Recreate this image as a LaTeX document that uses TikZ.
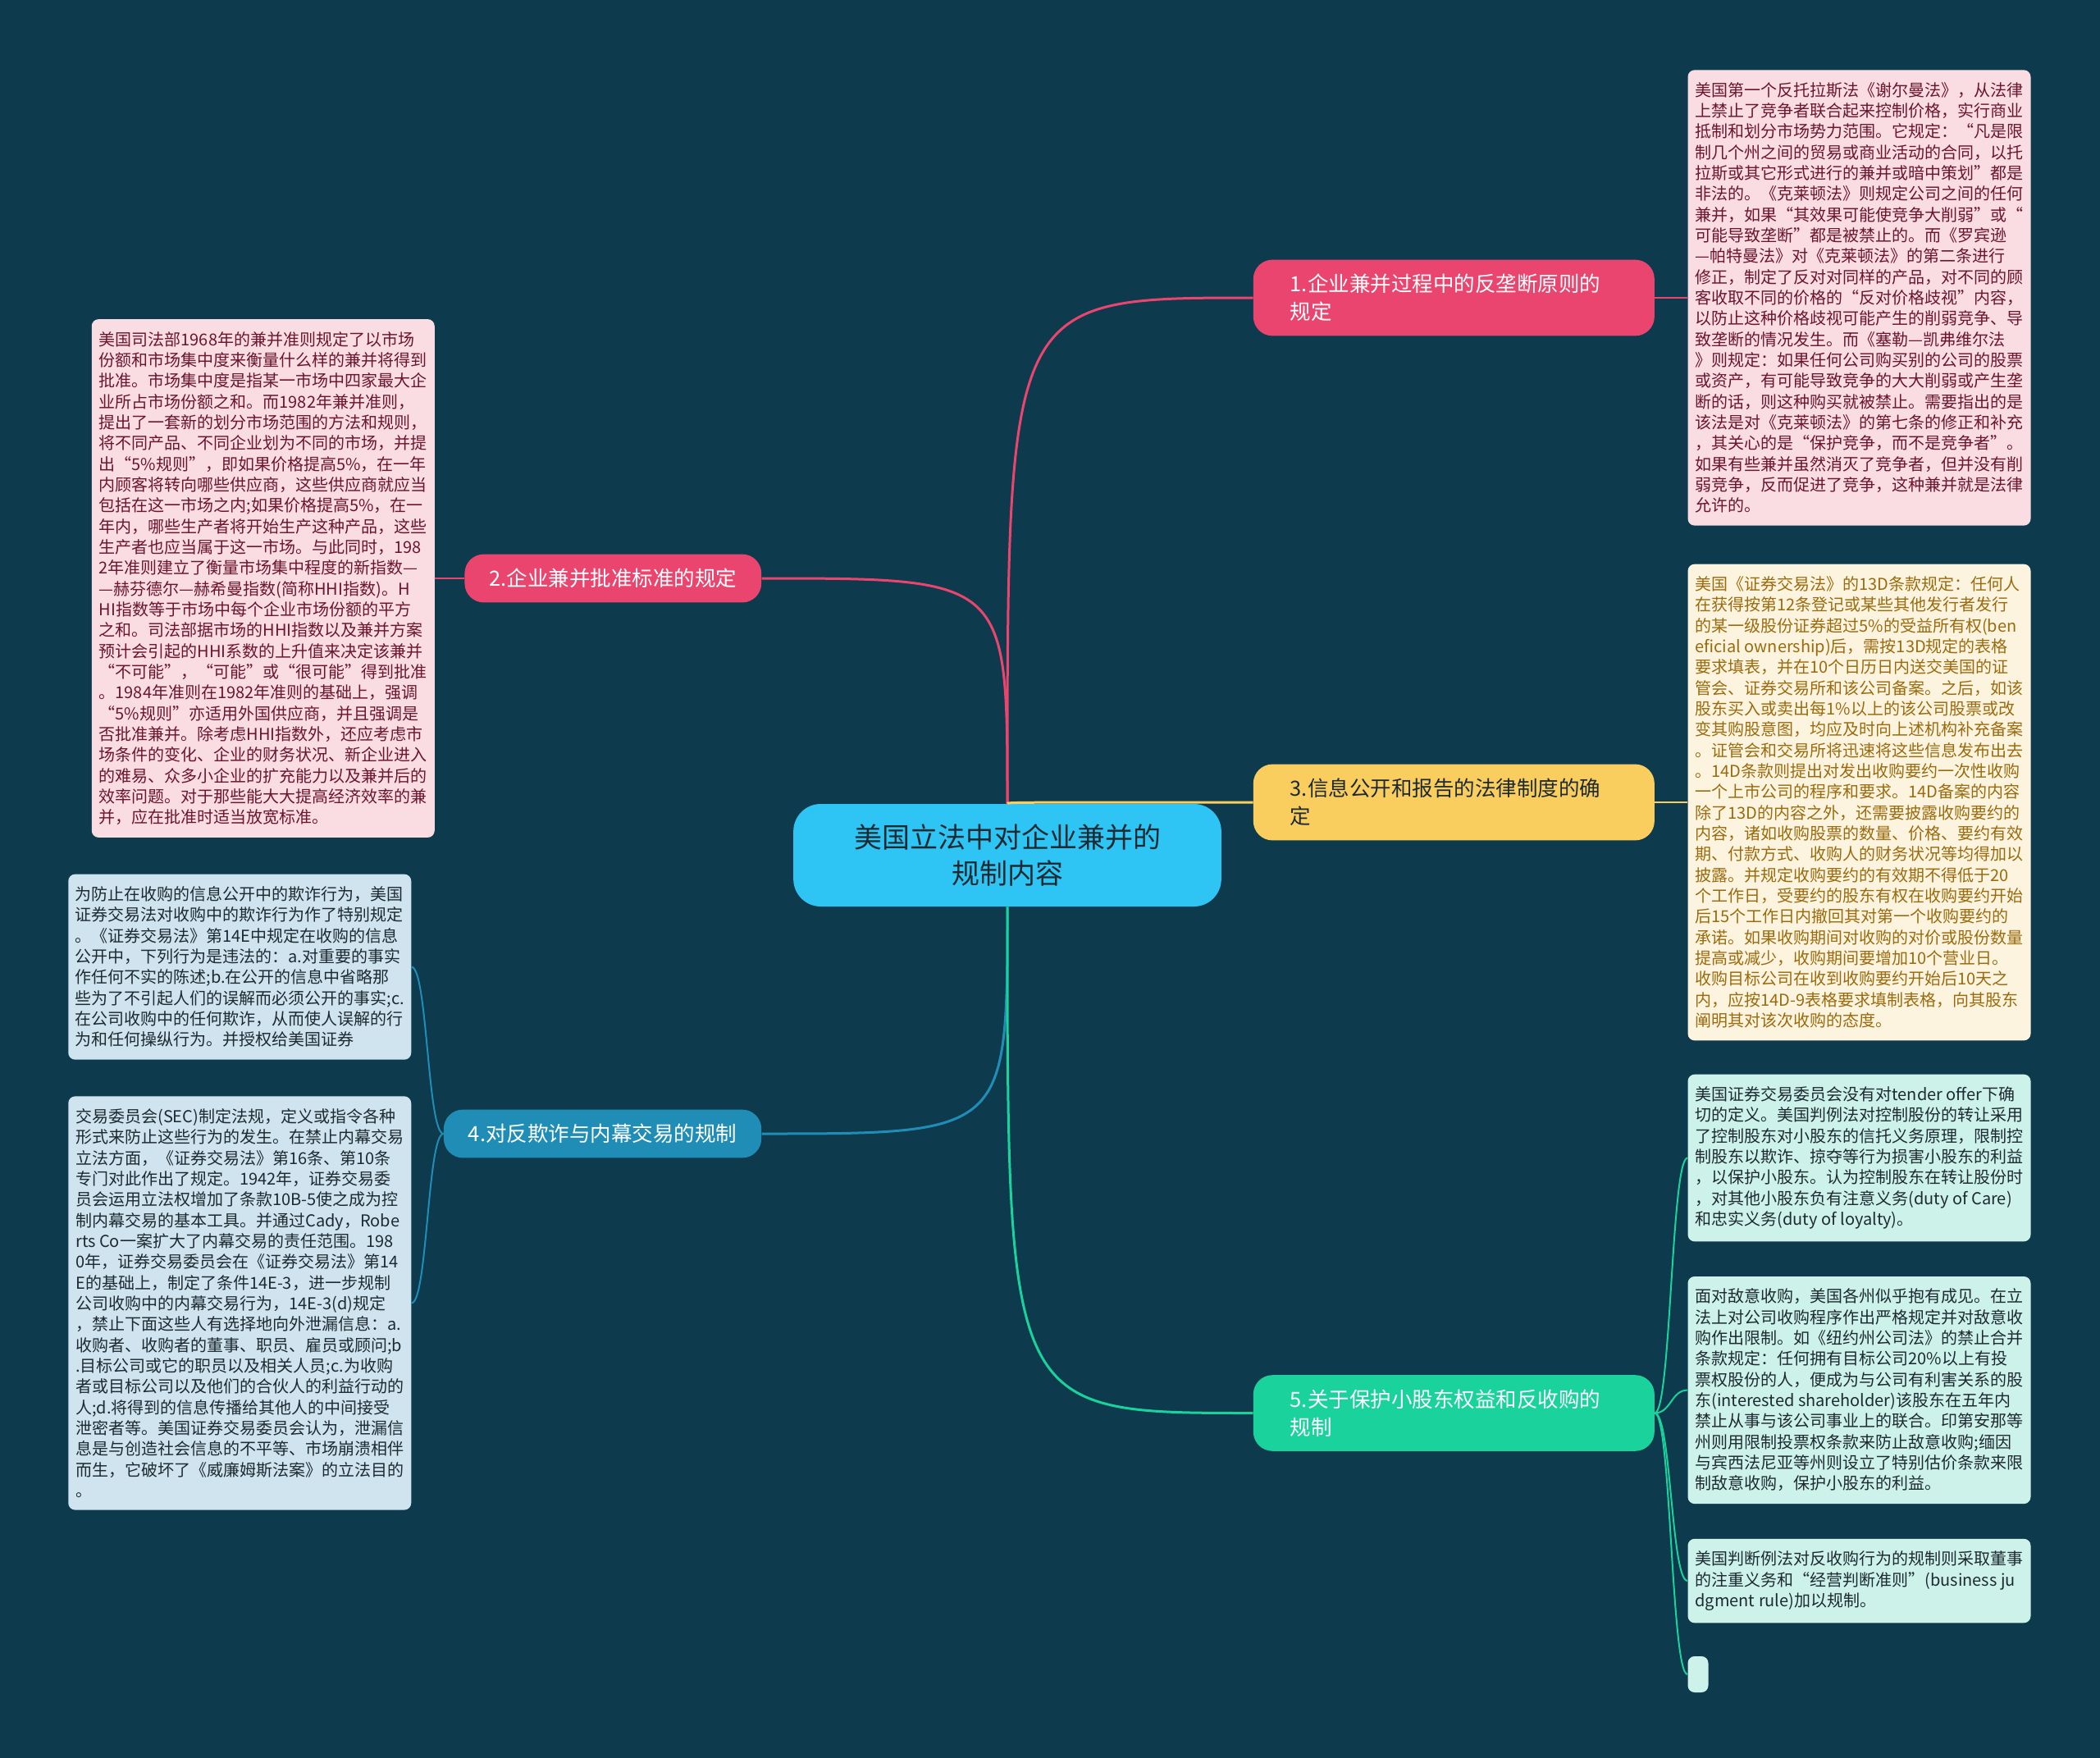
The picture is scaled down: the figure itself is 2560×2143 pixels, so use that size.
\documentclass[tikz,border=0pt]{standalone}
\usepackage{fontspec}
\setmainfont{Noto Sans CJK SC}
\usepackage{xcolor}
\usetikzlibrary{positioning}
\definecolor{bgsea}{RGB}{14,58,78}
\definecolor{topicblue}{RGB}{46,196,244}
\definecolor{rosered}{RGB}{234,69,110}
\definecolor{sunyellow}{RGB}{250,206,94}
\definecolor{oceanblue}{RGB}{32,141,182}
\definecolor{mintgreen}{RGB}{26,210,155}
\definecolor{rosepale}{RGB}{249,221,227}
\definecolor{roseink}{RGB}{107,21,48}
\definecolor{sunpale}{RGB}{253,244,223}
\definecolor{sunink}{RGB}{154,107,14}
\definecolor{oceanpale}{RGB}{207,228,238}
\definecolor{mintpale}{RGB}{205,242,234}
\definecolor{darkink}{RGB}{30,42,49}

\begin{document}
\begin{tikzpicture}[
  x=0.6pt, y=-0.6pt,
  node distance=23pt,
  topic/.style={fill=topicblue, rounded corners=20pt, minimum width=313pt,
                minimum height=75pt, align=center, text=darkink,
                font=\fontsize{20.4}{26.4}\selectfont},
  branch/.style={rounded corners=14pt, inner xsep=18pt, inner ysep=10.5pt,
                 align=left, text=white, font=\fontsize{15.3}{20.4}\selectfont},
  branchwide/.style={branch, text width=239.4pt, inner xsep=27pt},
  leaf/.style={rounded corners=5pt, inner xsep=5pt, inner ysep=9pt,
               minimum width=250.8pt, align=left, text=darkink,
               font=\fontsize{12}{15.2}\selectfont},
  link/.style={line width=1.8pt},
  twig/.style={line width=1.2pt}
]
  \fill[bgsea] (0,0) rectangle (2560,2143);

  \node[topic] (law) at (1228,1042.5) {美国立法中对企业兼并的\\规制内容};
  \node[branchwide, fill=rosered, right=of law, yshift=407.7pt] (antitrust) {1.企业兼并过程中的反垄断原则的\\规定};
  \node[branch, fill=rosered, left=of law, yshift=202.5pt] (approval) {2.企业兼并批准标准的规定};
  \node[branchwide, fill=sunyellow, text=darkink, right=of law, yshift=38.7pt] (disclosure) {3.信息公开和报告的法律制度的确\\定};
  \node[branch, fill=oceanblue, left=of law, yshift=-203.7pt] (fraud) {4.对反欺诈与内幕交易的规制};
  \node[branchwide, fill=mintgreen, right=of law, yshift=-408pt] (minority) {5.关于保护小股东权益和反收购的\\规制};

  \node[leaf, fill=rosepale, text=roseink, right=24pt of antitrust] (sherman) {美国第一个反托拉斯法《谢尔曼法》，从法律\\上禁止了竞争者联合起来控制价格，实行商业\\抵制和划分市场势力范围。它规定：“凡是限\\制几个州之间的贸易或商业活动的合同，以托\\拉斯或其它形式进行的兼并或暗中策划”都是\\非法的。《克莱顿法》则规定公司之间的任何\\兼并，如果“其效果可能使竞争大削弱”或“\\可能导致垄断”都是被禁止的。而《罗宾逊\\—帕特曼法》对《克莱顿法》的第二条进行\\修正，制定了反对对同样的产品，对不同的顾\\客收取不同的价格的“反对价格歧视”内容，\\以防止这种价格歧视可能产生的削弱竞争、导\\致垄断的情况发生。而《塞勒—凯弗维尔法\\》则规定：如果任何公司购买别的公司的股票\\或资产，有可能导致竞争的大大削弱或产生垄\\断的话，则这种购买就被禁止。需要指出的是\\该法是对《克莱顿法》的第七条的修正和补充\\，其关心的是“保护竞争，而不是竞争者”。\\如果有些兼并虽然消灭了竞争者，但并没有削\\弱竞争，反而促进了竞争，这种兼并就是法律\\允许的。};
  \node[leaf, fill=rosepale, text=roseink, left=21.6pt of approval] (guideline) {美国司法部1968年的兼并准则规定了以市场\\份额和市场集中度来衡量什么样的兼并将得到\\批准。市场集中度是指某一市场中四家最大企\\业所占市场份额之和。而1982年兼并准则，\\提出了一套新的划分市场范围的方法和规则，\\将不同产品、不同企业划为不同的市场，并提\\出“5\%规则”，即如果价格提高5\%，在一年\\内顾客将转向哪些供应商，这些供应商就应当\\包括在这一市场之内;如果价格提高5\%，在一\\年内，哪些生产者将开始生产这种产品，这些\\生产者也应当属于这一市场。与此同时，198\\2年准则建立了衡量市场集中程度的新指数—\\—赫芬德尔—赫希曼指数(简称HHI指数)。H\\HI指数等于市场中每个企业市场份额的平方\\之和。司法部据市场的HHI指数以及兼并方案\\预计会引起的HHI系数的上升值来决定该兼并\\“不可能”，“可能”或“很可能”得到批准\\。1984年准则在1982年准则的基础上，强调\\“5\%规则”亦适用外国供应商，并且强调是\\否批准兼并。除考虑HHI指数外，还应考虑市\\场条件的变化、企业的财务状况、新企业进入\\的难易、众多小企业的扩充能力以及兼并后的\\效率问题。对于那些能大大提高经济效率的兼\\并，应在批准时适当放宽标准。};
  \node[leaf, fill=sunpale, text=sunink, right=24pt of disclosure] (williams) {美国《证券交易法》的13D条款规定：任何人\\在获得按第12条登记或某些其他发行者发行\\的某一级股份证券超过5\%的受益所有权(ben\\eficial ownership)后，需按13D规定的表格\\要求填表，并在10个日历日内送交美国的证\\管会、证券交易所和该公司备案。之后，如该\\股东买入或卖出每1\%以上的该公司股票或改\\变其购股意图，均应及时向上述机构补充备案\\。证管会和交易所将迅速将这些信息发布出去\\。14D条款则提出对发出收购要约一次性收购\\一个上市公司的程序和要求。14D备案的内容\\除了13D的内容之外，还需要披露收购要约的\\内容，诸如收购股票的数量、价格、要约有效\\期、付款方式、收购人的财务状况等均得加以\\披露。并规定收购要约的有效期不得低于20\\个工作日，受要约的股东有权在收购要约开始\\后15个工作日内撤回其对第一个收购要约的\\承诺。如果收购期间对收购的对价或股份数量\\提高或减少，收购期间要增加10个营业日。\\收购目标公司在收到收购要约开始后10天之\\内，应按14D-9表格要求填制表格，向其股东\\阐明其对该次收购的态度。};
  \node[leaf, fill=oceanpale, left=23.4pt of fraud, yshift=122pt] (fraudrule) {为防止在收购的信息公开中的欺诈行为，美国\\证券交易法对收购中的欺诈行为作了特别规定\\。《证券交易法》第14E中规定在收购的信息\\公开中，下列行为是违法的：a.对重要的事实\\作任何不实的陈述;b.在公开的信息中省略那\\些为了不引起人们的误解而必须公开的事实;c.\\在公司收购中的任何欺诈，从而使人误解的行\\为和任何操纵行为。并授权给美国证券};
  \node[leaf, fill=oceanpale, below=26.4pt of fraudrule] (insider) {交易委员会(SEC)制定法规，定义或指令各种\\形式来防止这些行为的发生。在禁止内幕交易\\立法方面，《证券交易法》第16条、第10条\\专门对此作出了规定。1942年，证券交易委\\员会运用立法权增加了条款10B-5使之成为控\\制内幕交易的基本工具。并通过Cady，Robe\\rts Co一案扩大了内幕交易的责任范围。198\\0年，证券交易委员会在《证券交易法》第14\\E的基础上，制定了条件14E-3，进一步规制\\公司收购中的内幕交易行为，14E-3(d)规定\\，禁止下面这些人有选择地向外泄漏信息：a.\\收购者、收购者的董事、职员、雇员或顾问;b\\.目标公司或它的职员以及相关人员;c.为收购\\者或目标公司以及他们的合伙人的利益行动的\\人;d.将得到的信息传播给其他人的中间接受\\泄密者等。美国证券交易委员会认为，泄漏信\\息是与创造社会信息的不平等、市场崩溃相伴\\而生，它破坏了《威廉姆斯法案》的立法目的\\。};
  \node[leaf, fill=mintpale, right=24pt of minority, yshift=186.6pt] (tender) {美国证券交易委员会没有对tender offer下确\\切的定义。美国判例法对控制股份的转让采用\\了控制股东对小股东的信托义务原理，限制控\\制股东以欺诈、掠夺等行为损害小股东的利益\\，以保护小股东。认为控制股东在转让股份时\\，对其他小股东负有注意义务(duty of Care)\\和忠实义务(duty of loyalty)。};
  \node[leaf, fill=mintpale, below=25.2pt of tender] (hostile) {面对敌意收购，美国各州似乎抱有成见。在立\\法上对公司收购程序作出严格规定并对敌意收\\购作出限制。如《纽约州公司法》的禁止合并\\条款规定：任何拥有目标公司20\%以上有投\\票权股份的人，便成为与公司有利害关系的股\\东(interested shareholder)该股东在五年内\\禁止从事与该公司事业上的联合。印第安那等\\州则用限制投票权条款来防止敌意收购;缅因\\与宾西法尼亚等州则设立了特别估价条款来限\\制敌意收购，保护小股东的利益。};
  \node[leaf, fill=mintpale, below=25.2pt of hostile] (judgment) {美国判断例法对反收购行为的规制则采取董事\\的注重义务和“经营判断准则”(business ju\\dgment rule)加以规制。};
  \node[fill=mintpale, rounded corners=5pt, inner sep=0pt, minimum width=15pt,
        minimum height=26.4pt, below=24pt of judgment.south west, anchor=north west] (blank) {};

  \draw[link, rosered] (law.north) .. controls (law.north |- antitrust.west) .. (antitrust.west);
  \draw[link, rosered] (law.north) .. controls (law.north |- approval.east) .. (approval.east);
  \draw[link, sunyellow] (law.north) .. controls (law.north |- disclosure.west) .. (disclosure.west);
  \draw[link, oceanblue] (law.south) .. controls (law.south |- fraud.east) .. (fraud.east);
  \draw[link, mintgreen] (law.south) .. controls (law.south |- minority.west) .. (minority.west);

  \draw[twig, rosered] (antitrust.east) -- (sherman.west);
  \draw[twig, rosered] (approval.west) -- (guideline.east);
  \draw[twig, sunyellow] (disclosure.east) -- (williams.west);
  \foreach \leafname in {fraudrule, insider}
    \draw[twig, oceanblue] (fraud.west) .. controls +(-11.7pt,0) and +(11.7pt,0) .. (\leafname.east);
  \foreach \leafname in {tender, hostile, judgment, blank}
    \draw[twig, mintgreen] (minority.east) .. controls +(12pt,0) and +(-12pt,0) .. (\leafname.west);
\end{tikzpicture}
\end{document}
